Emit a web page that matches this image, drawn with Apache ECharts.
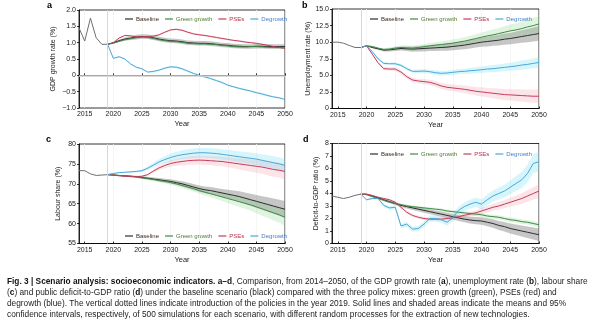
<!DOCTYPE html>
<html><head><meta charset="utf-8">
<script src="https://cdn.jsdelivr.net/npm/echarts@6/dist/echarts.min.js"></script>
<style>html,body{margin:0;padding:0;background:#fff}#c{width:598px;height:326px}</style>
</head><body><div id="c"></div>
<script>
// ---------- categories ----------
const years = ['2014','2015','2016','2017','2018','2019','2020','2021','2022','2023','2024','2025','2026','2027','2028','2029','2030','2031','2032','2033','2034','2035','2036','2037','2038','2039','2040','2041','2042','2043','2044','2045','2046','2047','2048','2049','2050'];
const scenarioNames = ['Baseline','Green growth','PSEs','Degrowth'];

// ---------- panel a: GDP growth rate (%) ----------  history 2014-2019, scenarios 2019-2050
const gdpHist = [1.45,1.05,1.75,1.15,0.95,0.95];
const gdpBaseline = [0.95,1.0,1.06,1.11,1.14,1.17,1.19,1.18,1.15,1.11,1.08,1.06,1.05,1.03,1.0,0.99,0.98,0.98,0.97,0.95,0.93,0.92,0.9,0.89,0.88,0.88,0.89,0.89,0.88,0.88,0.88,0.88];
const gdpBaselineCI = [0,0.02,0.04,0.05,0.06,0.07,0.07,0.07,0.07,0.07,0.07,0.07,0.07,0.07,0.07,0.07,0.07,0.07,0.07,0.07,0.07,0.07,0.07,0.07,0.07,0.07,0.07,0.07,0.07,0.07,0.07,0.07];
const gdpGreen = [0.95,0.98,1.04,1.09,1.12,1.15,1.17,1.16,1.13,1.09,1.06,1.04,1.03,1.01,0.98,0.97,0.96,0.96,0.95,0.94,0.92,0.9,0.88,0.87,0.87,0.88,0.88,0.87,0.86,0.85,0.85,0.84];
const gdpGreenCI = [0,0.01,0.02,0.03,0.03,0.03,0.03,0.03,0.03,0.03,0.03,0.03,0.03,0.03,0.03,0.03,0.03,0.03,0.03,0.03,0.03,0.03,0.03,0.03,0.03,0.03,0.03,0.03,0.03,0.03,0.03,0.03];
const gdpPSEs = [0.95,1.0,1.14,1.22,1.21,1.18,1.18,1.19,1.2,1.24,1.32,1.39,1.41,1.38,1.32,1.27,1.24,1.22,1.19,1.16,1.13,1.1,1.07,1.05,1.02,1.0,0.98,0.95,0.92,0.88,0.85,0.83];
const gdpPSEsCI = [0,0.01,0.02,0.02,0.02,0.02,0.02,0.02,0.03,0.03,0.03,0.03,0.03,0.03,0.03,0.03,0.03,0.03,0.03,0.03,0.03,0.03,0.03,0.03,0.03,0.03,0.03,0.03,0.03,0.03,0.03,0.03];
const gdpDegrowth = [0.95,0.52,0.57,0.5,0.35,0.25,0.2,0.1,0.12,0.16,0.22,0.26,0.25,0.2,0.13,0.06,0.0,-0.05,-0.1,-0.16,-0.22,-0.3,-0.35,-0.4,-0.44,-0.48,-0.53,-0.57,-0.62,-0.66,-0.69,-0.74];
const gdpDegrowthCI = [0,0.02,0.02,0.02,0.02,0.02,0.02,0.02,0.03,0.03,0.03,0.03,0.03,0.03,0.03,0.03,0.03,0.03,0.03,0.03,0.03,0.03,0.03,0.03,0.03,0.03,0.03,0.03,0.03,0.03,0.03,0.03];

// ---------- panel b: unemployment rate (%) ----------
const unempHist = [10.0,10.0,9.85,9.5,9.2,9.2];
const unempBaseline = [9.2,9.45,9.2,9.0,8.8,8.85,8.95,9.05,9.0,8.95,9.0,9.05,9.1,9.15,9.2,9.25,9.35,9.45,9.55,9.7,9.85,10.0,10.1,10.2,10.3,10.45,10.55,10.7,10.85,11.0,11.15,11.3];
const unempBaselineCI = [0,0,0.1,0.15,0.2,0.25,0.3,0.3,0.35,0.4,0.4,0.45,0.45,0.5,0.5,0.55,0.55,0.6,0.6,0.65,0.65,0.7,0.75,0.75,0.8,0.85,0.85,0.9,0.95,1.0,1.05,1.1];
const unempGreen = [9.2,9.45,9.35,9.1,8.9,8.95,9.1,9.2,9.15,9.1,9.2,9.3,9.45,9.55,9.65,9.75,9.85,10.0,10.15,10.35,10.55,10.75,10.95,11.1,11.3,11.5,11.7,11.85,12.05,12.3,12.5,12.75];
const unempGreenCI = [0,0,0.1,0.15,0.2,0.25,0.3,0.3,0.35,0.35,0.4,0.4,0.45,0.45,0.5,0.5,0.55,0.55,0.6,0.6,0.65,0.7,0.75,0.8,0.85,0.9,0.95,1.0,1.05,1.1,1.15,1.2];
const unempPSEs = [9.2,9.45,8.2,6.9,6.0,5.95,5.95,5.5,4.8,4.3,4.15,4.05,3.95,3.7,3.4,3.2,3.1,3.0,2.9,2.75,2.6,2.5,2.4,2.3,2.2,2.1,2.05,2.0,1.95,1.9,1.85,1.85];
const unempPSEsCI = [0,0,0.15,0.2,0.25,0.25,0.3,0.3,0.3,0.35,0.35,0.4,0.4,0.45,0.45,0.5,0.5,0.55,0.55,0.6,0.65,0.7,0.7,0.75,0.8,0.8,0.85,0.9,0.9,0.95,1.0,1.0];
const unempDegrowth = [9.2,9.45,8.6,7.5,6.8,6.75,6.75,6.5,6.0,5.6,5.6,5.65,5.55,5.4,5.3,5.35,5.45,5.55,5.6,5.7,5.75,5.85,5.95,6.0,6.1,6.2,6.3,6.4,6.55,6.65,6.8,6.95];
const unempDegrowthCI = [0,0,0.1,0.15,0.2,0.2,0.2,0.25,0.25,0.25,0.3,0.3,0.3,0.35,0.35,0.35,0.4,0.4,0.4,0.45,0.45,0.5,0.5,0.55,0.55,0.6,0.6,0.65,0.7,0.7,0.75,0.8];

// ---------- panel c: labour share (%) ----------
const labHist = [73.3,73.3,72.5,72.1,72.2,72.3];
const labBaseline = [72.3,72.2,72.1,72.0,71.9,71.8,71.6,71.4,71.2,71.0,70.8,70.6,70.3,70.0,69.6,69.2,68.8,68.5,68.3,68.0,67.7,67.4,67.1,66.8,66.4,66.0,65.6,65.2,64.8,64.4,64.0,63.6];
const labBaselineCI = [0,0.05,0.1,0.15,0.2,0.25,0.3,0.35,0.4,0.45,0.5,0.55,0.6,0.65,0.7,0.75,0.8,0.85,0.9,0.95,1.0,1.1,1.2,1.3,1.4,1.5,1.6,1.7,1.8,1.9,2.0,2.1];
const labGreen = [72.3,72.2,72.1,72.0,71.9,71.7,71.5,71.3,71.1,70.8,70.6,70.3,70.0,69.6,69.2,68.8,68.3,67.9,67.5,67.1,66.7,66.3,65.9,65.5,65.1,64.7,64.2,63.7,63.2,62.7,62.2,61.6];
const labGreenCI = [0,0.05,0.1,0.15,0.2,0.25,0.3,0.35,0.4,0.45,0.5,0.55,0.6,0.65,0.7,0.75,0.8,0.85,0.9,0.95,1.0,1.1,1.2,1.3,1.4,1.5,1.6,1.7,1.8,1.9,2.0,2.2];
const labPSEs = [72.3,72.2,72.0,71.9,71.8,71.8,71.9,72.3,73.2,74.0,74.6,75.1,75.4,75.6,75.8,75.9,75.95,75.9,75.8,75.7,75.6,75.4,75.2,75.0,74.8,74.6,74.4,74.2,73.9,73.6,73.4,73.1];
const labPSEsCI = [0,0.05,0.1,0.1,0.15,0.15,0.2,0.3,0.45,0.6,0.7,0.8,0.9,1.0,1.05,1.1,1.1,1.15,1.15,1.2,1.2,1.25,1.3,1.4,1.5,1.55,1.6,1.7,1.8,1.85,1.9,2.0];
const labDegrowth = [72.3,72.6,72.8,72.9,73.0,73.1,73.3,73.9,74.7,75.5,76.1,76.6,77.0,77.3,77.5,77.7,77.8,77.8,77.7,77.6,77.4,77.2,77.0,76.8,76.6,76.4,76.2,75.9,75.6,75.3,75.0,74.6];
const labDegrowthCI = [0,0.05,0.1,0.15,0.2,0.25,0.3,0.45,0.6,0.75,0.85,0.95,1.05,1.1,1.15,1.2,1.2,1.25,1.25,1.3,1.3,1.3,1.35,1.4,1.4,1.45,1.5,1.5,1.55,1.6,1.65,1.7];

// ---------- panel d: deficit-to-GDP ratio (%) ----------
const defHist = [3.8,3.7,3.6,3.7,3.85,3.95];
const defBaseline = [3.95,3.95,3.8,3.65,3.5,3.35,3.2,3.05,2.95,2.85,2.75,2.65,2.55,2.45,2.35,2.25,2.15,2.05,1.95,1.88,1.83,1.8,1.7,1.6,1.45,1.35,1.2,1.1,1.0,0.9,0.8,0.7];
const defBaselineCI = [0,0.02,0.05,0.07,0.09,0.1,0.12,0.13,0.15,0.16,0.17,0.18,0.19,0.2,0.21,0.22,0.23,0.24,0.25,0.27,0.29,0.3,0.32,0.34,0.36,0.38,0.4,0.42,0.44,0.46,0.48,0.5];
const defGreen = [3.95,3.9,3.75,3.6,3.45,3.3,3.2,3.1,3.0,2.95,2.9,2.85,2.8,2.75,2.7,2.6,2.55,2.5,2.45,2.4,2.35,2.3,2.2,2.15,2.1,2.0,1.9,1.85,1.75,1.7,1.6,1.5];
const defGreenCI = [0,0.02,0.03,0.04,0.05,0.06,0.07,0.08,0.08,0.09,0.1,0.1,0.11,0.11,0.12,0.12,0.13,0.13,0.14,0.14,0.15,0.15,0.16,0.16,0.17,0.17,0.18,0.18,0.19,0.19,0.2,0.2];
const defPSEs = [3.95,3.95,3.85,3.7,3.6,3.5,3.3,2.9,2.5,2.25,2.1,2.0,1.95,1.95,1.95,2.0,2.05,2.15,2.25,2.35,2.45,2.6,2.75,2.9,3.0,3.15,3.3,3.45,3.6,3.8,4.0,4.2];
const defPSEsCI = [0,0.02,0.04,0.06,0.08,0.1,0.12,0.12,0.12,0.12,0.12,0.12,0.12,0.13,0.14,0.15,0.16,0.17,0.18,0.2,0.22,0.24,0.26,0.28,0.3,0.33,0.36,0.4,0.43,0.46,0.5,0.55];
const defDegrowth = [3.95,3.5,3.6,3.6,3.05,2.85,2.9,1.4,1.55,1.15,1.2,1.55,2.0,2.0,1.9,1.7,2.05,2.65,2.95,3.15,3.3,3.15,3.5,3.8,4.0,4.2,4.5,4.8,5.1,5.6,6.4,6.55];
const defDegrowthCI = [0,0.05,0.08,0.1,0.12,0.14,0.16,0.18,0.2,0.2,0.22,0.22,0.24,0.25,0.26,0.28,0.3,0.32,0.34,0.36,0.38,0.4,0.42,0.45,0.48,0.5,0.55,0.6,0.65,0.7,0.75,0.8];

// ---------- tick labels ----------
const gdpTicks = ['2.0','1.5','1.0','0.5','0','\u22120.5','\u22121.0'];
const unempTicks = ['15.0','12.5','10.0','7.5','5.0','2.5','0'];

// ---------- styling ----------
const FONT = '"Liberation Sans", Arial, Helvetica, sans-serif';
const lineColors = ['#2e2e2e','#3f8a45','#c43c5d','#4ea6d9'];
const bandColors = ['rgba(120,120,120,0.42)','rgba(120,205,120,0.22)','rgba(238,135,155,0.22)','rgba(95,220,240,0.26)'];
const legendTextColors = ['#3a2a20','#4d7a2c','#b8304f','#3f7fc4'];
const histColor = '#6f6f6f';
const HIST_N = 5; // number of years before 2019

const panels = [
  {grid:{left:79,top:10,width:206,height:98}, min:-1,max:2,interval:0.5, name:'GDP growth rate (%)', nameGap:22,
   fmt:(v)=>gdpTicks[Math.round((2-v)/0.5)], hist:gdpHist,
   means:[gdpBaseline,gdpGreen,gdpPSEs,gdpDegrowth], cis:[gdpBaselineCI,gdpGreenCI,gdpPSEsCI,gdpDegrowthCI],
   legend:{left:120,top:11}, zero:true, letter:'a', lx:47, ly:1},
  {grid:{left:332,top:9,width:207,height:99.5}, min:0,max:15,interval:2.5, name:'Unemployment rate (%)', nameGap:20,
   fmt:(v)=>unempTicks[Math.round((15-v)/2.5)], hist:unempHist,
   means:[unempBaseline,unempGreen,unempPSEs,unempDegrowth], cis:[unempBaselineCI,unempGreenCI,unempPSEsCI,unempDegrowthCI],
   legend:{left:365,top:11}, zero:false, letter:'b', lx:302, ly:1},
  {grid:{left:79,top:144,width:206,height:99.5}, min:55,max:80,interval:5, name:'Labour share (%)', nameGap:17,
   fmt:(v)=>String(v), hist:labHist,
   means:[labBaseline,labGreen,labPSEs,labDegrowth], cis:[labBaselineCI,labGreenCI,labPSEsCI,labDegrowthCI],
   legend:{left:120,top:228}, zero:false, letter:'c', lx:46, ly:135},
  {grid:{left:332,top:143.5,width:207,height:100}, min:0,max:8,interval:1, name:'Deficit-to-GDP ratio (%)', nameGap:12,
   fmt:(v)=>String(v), hist:defHist,
   means:[defBaseline,defGreen,defPSEs,defDegrowth], cis:[defBaselineCI,defGreenCI,defPSEsCI,defDegrowthCI],
   legend:{left:365,top:146}, zero:false, letter:'d', lx:303, ly:135}
];

const tickInt = (i, v) => (+v) % 5 === 0;
const pad = (arr) => Array(HIST_N).fill('-').concat(arr);

const grids = [], xAxes = [], yAxes = [], series = [], legends = [], graphics = [];
panels.forEach((p, pi) => {
  grids.push(Object.assign({show:true, borderColor:'#000', borderWidth:0.8, backgroundColor:'transparent'}, p.grid));
  xAxes.push({type:'category', gridIndex:pi, data:years, boundaryGap:false,
    axisLine:{show:true, lineStyle:{color:'#000', width:0.8}},
    axisTick:{show:true, inside:true, length:2, interval:tickInt, lineStyle:{color:'#000', width:0.8}},
    axisLabel:{interval:tickInt, fontSize:7, margin:3, color:'#1a1a1a', fontFamily:FONT},
    splitLine:{show:true, interval:tickInt, lineStyle:{color:'#f2f2f2', width:0.8}},
    name:'Year', nameLocation:'middle', nameGap:12,
    nameTextStyle:{fontSize:7.5, color:'#222', fontFamily:FONT}});
  yAxes.push({type:'value', gridIndex:pi, min:p.min, max:p.max, interval:p.interval,
    axisLine:{show:true, lineStyle:{color:'#000', width:0.8}},
    axisTick:{show:true, length:2, lineStyle:{color:'#000', width:0.8}},
    axisLabel:{fontSize:7, margin:3, color:'#1a1a1a', fontFamily:FONT, formatter:p.fmt},
    splitLine:{show:false},
    name:p.name, nameLocation:'middle', nameGap:p.nameGap, nameRotate:90,
    nameTextStyle:{fontSize:7, color:'#222', fontFamily:FONT}});
  // history + reference lines
  const markData = [{xAxis:'2019', lineStyle:{color:'#e8d3c0', width:1, type:'solid'}}];
  if (p.zero) markData.push({yAxis:0, lineStyle:{color:'#cfcfcf', width:1.6, type:'solid'}});
  series.push({type:'line', xAxisIndex:pi, yAxisIndex:pi, z:1, silent:true, symbol:'none',
    data: p.hist.concat(Array(years.length - p.hist.length).fill('-')),
    lineStyle:{color:histColor, width:1},
    markLine:{silent:true, symbol:'none', label:{show:false}, animation:false, data:markData}});
  // confidence bands
  p.means.forEach((m, si) => {
    const ci = p.cis[si];
    const lower = m.map((v, k) => +(v - ci[k]).toFixed(4));
    const width = ci.map(c => +(2 * c).toFixed(4));
    const st = 'band' + pi + '_' + si;
    series.push({type:'line', xAxisIndex:pi, yAxisIndex:pi, z:2, silent:true, symbol:'none',
      stack:st, stackStrategy:'all', data:pad(lower), lineStyle:{opacity:0, width:0}});
    series.push({type:'line', xAxisIndex:pi, yAxisIndex:pi, z:2, silent:true, symbol:'none',
      stack:st, stackStrategy:'all', data:pad(width), lineStyle:{opacity:0, width:0},
      areaStyle:{color:bandColors[si], opacity:1}});
  });
  // mean lines
  p.means.forEach((m, si) => {
    series.push({name:scenarioNames[si], type:'line', xAxisIndex:pi, yAxisIndex:pi, z:3, symbol:'none',
      color:lineColors[si], data:pad(m), lineStyle:{color:lineColors[si], width:1}});
  });
  legends.push({left:p.legend.left, top:p.legend.top, orient:'horizontal', icon:'rect', itemWidth:8, itemHeight:1.2,
    itemGap:6, selectedMode:false,
    textStyle:{fontSize:6, fontFamily:FONT, padding:[0,0,0,-2]},
    data: scenarioNames.map((n, i) => ({name:n, textStyle:{color:legendTextColors[i]}}))});
  graphics.push({type:'text', left:p.lx, top:p.ly, style:{text:p.letter, font:'bold 9px ' + FONT, fill:'#000'}});
});

// caption
const capFont = '"Liberation Sans Narrow", "Liberation Sans", Arial, sans-serif';
const capLines = [
  '{b|Fig. 3 | Scenario analysis: socioeconomic indicators. a\u2013d}, Comparison, from 2014\u20132050, of the GDP growth rate ({b|a}), unemployment rate ({b|b}), labour share',
  '({b|c}) and public deficit-to-GDP ratio ({b|d}) under the baseline scenario (black) compared with the three policy mixes: green growth (green), PSEs (red) and',
  'degrowth (blue). The vertical dotted lines indicate introduction of the policies in the year 2019. Solid lines and shaded areas indicate the means and 95%',
  'confidence intervals, respectively, of 500 simulations for each scenario, with different random processes for the extraction of new technologies.'
];
capLines.forEach((t, i) => {
  graphics.push({type:'text', x:7, y:282 + i * 11, style:{text:t, fontSize:8.3, fontFamily:capFont, fill:'#222',
    verticalAlign:'middle',
    rich:{b:{fontSize:8.3, fontFamily:capFont, fontWeight:'bold', fill:'#111'}}}});
});

const chart = echarts.init(document.getElementById('c'), null, {renderer:'canvas'});
chart.setOption({
  animation:false,
  backgroundColor:'#fff',
  grid:grids, xAxis:xAxes, yAxis:yAxes, legend:legends, series:series, graphic:graphics
});
</script></body></html>
